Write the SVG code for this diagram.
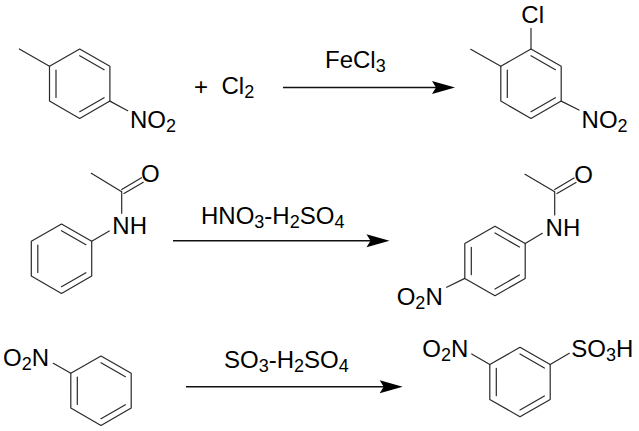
<svg xmlns="http://www.w3.org/2000/svg" xmlns:xlink="http://www.w3.org/1999/xlink" width="639" height="431" viewBox="0 0 639 431">
<style>
text{font-family:"Liberation Sans",Arial,sans-serif;font-size:24px;fill:#000}
.s{font-size:18px}
.b{fill:none;stroke:#2a2a2a;stroke-width:1.2;stroke-linecap:round;stroke-linejoin:round}
.a{fill:none;stroke:#111;stroke-width:1.6}
.h{fill:#000}
</style>
<defs>
<g id="ring" class="b">
<path d="M0-34.7L30.2-17.4V17.4L0 34.7-30.2 17.4V-17.4Z"/>
<path d="M0-28L24.4-14M-23.7-13.7V13.7M24.4 14L0 28"/>
</g>
<path id="head" class="h" d="M0 0L-23-6.5-19 0-23 6.5Z"/>
</defs>
<rect width="639" height="431" fill="#fff"/>
<g id="connectors">
<path class="a" d="M283 87.5H440"/><use xlink:href="#head" href="#head" x="455" y="87.5"/>
<path class="a" d="M173 240.7H375"/><use xlink:href="#head" href="#head" x="389.5" y="240.7"/>
<path class="a" d="M186 386.7H388"/><use xlink:href="#head" href="#head" x="402.7" y="386.7"/>
</g>
<g id="reactant1">
<use xlink:href="#ring" href="#ring" x="79.7" y="83.7"/>
<path class="b" d="M49.5 66.3L19.3 49M109.9 101.1L127.7 110.7"/>
<text x="130" y="128.3">NO<tspan class="s" dy="4">2</tspan></text>
</g>
<g id="plus-cl2">
<text x="194" y="95">+</text>
<text x="221.5" y="94">Cl<tspan class="s" dy="4">2</tspan></text>
</g>
<g id="label-fecl3"><text x="325" y="68">FeCl<tspan class="s" dy="4">3</tspan></text></g>
<g id="product1">
<use xlink:href="#ring" href="#ring" x="531" y="83.7"/>
<path class="b" d="M500.8 66.3L470.7 49.3M531 49V28.3M561.2 101.1L579 110"/>
<text x="521.3" y="23.3">Cl</text>
<text x="581.6" y="127.7">NO<tspan class="s" dy="4">2</tspan></text>
</g>
<g id="reactant2">
<use xlink:href="#ring" href="#ring" x="61.5" y="258.7"/>
<path class="b" d="M91.7 241.3L109.3 231M121.7 191.7V213.3M121.7 191.7L91.3 173.3M121.7 189.5L141.5 177.7M124 193.5L143.3 182.3"/>
<text x="112.3" y="234">NH</text>
<text x="141" y="181.7">O</text>
</g>
<g id="label-hno3"><text x="201" y="224">HNO<tspan class="s" dy="4">3</tspan><tspan dy="-4">-H</tspan><tspan class="s" dy="4">2</tspan><tspan dy="-4">SO</tspan><tspan class="s" dy="4">4</tspan></text></g>
<g id="product2">
<use xlink:href="#ring" href="#ring" x="495" y="261"/>
<path class="b" d="M525.2 243.6L542.3 233.3M554.7 191.7V215M554.7 191.7L525 174.3M554.7 189.5L574 178M557 193.5L576 182.5M464.8 278.4L446.7 287.3"/>
<text x="545.6" y="235.7">NH</text>
<text x="574.3" y="183.3">O</text>
<text x="396.7" y="305">O<tspan class="s" dy="4">2</tspan><tspan dy="-4">N</tspan></text>
</g>
<g id="reactant3">
<use xlink:href="#ring" href="#ring" x="101" y="390.7"/>
<path class="b" d="M70.8 373.3L53.3 363.3"/>
<text x="3" y="365.7">O<tspan class="s" dy="4">2</tspan><tspan dy="-4">N</tspan></text>
</g>
<g id="label-so3"><text x="224" y="367.7">SO<tspan class="s" dy="4">3</tspan><tspan dy="-4">-H</tspan><tspan class="s" dy="4">2</tspan><tspan dy="-4">SO</tspan><tspan class="s" dy="4">4</tspan></text></g>
<g id="product3">
<use xlink:href="#ring" href="#ring" x="520" y="382"/>
<path class="b" d="M489.8 364.6L471.7 354M550.2 364.6L569.3 353.3"/>
<text x="422.3" y="356.7">O<tspan class="s" dy="4">2</tspan><tspan dy="-4">N</tspan></text>
<text x="571.3" y="356.7">SO<tspan class="s" dy="4">3</tspan><tspan dy="-4">H</tspan></text>
</g>
</svg>
